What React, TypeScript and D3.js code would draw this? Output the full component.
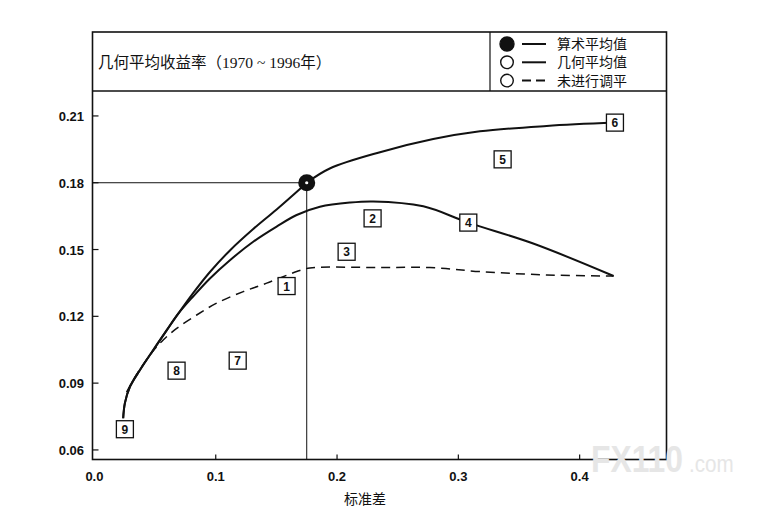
import React from 'react';
import * as d3 from 'd3';

// 算术平均值曲线（标准差, 收益率），以圆点为界分两段
const arithLowX = [0.0237, 0.0251, 0.0293, 0.0375, 0.0485, 0.0595, 0.0691, 0.0815, 0.0952, 0.1117, 0.1309, 0.1502, 0.168, 0.175];
const arithLowY = [0.0742, 0.081, 0.0884, 0.0959, 0.1049, 0.1137, 0.1212, 0.1305, 0.1399, 0.1496, 0.1592, 0.168, 0.1765, 0.18];
const arithHighX = [0.175, 0.194, 0.2354, 0.2793, 0.3178, 0.3728, 0.429];
const arithHighY = [0.18, 0.1864, 0.1937, 0.1996, 0.2031, 0.2055, 0.207];

// 几何平均值曲线
const geoX = [0.0237, 0.0251, 0.0293, 0.0375, 0.0485, 0.0595, 0.0691, 0.0815, 0.0952, 0.1117, 0.1309, 0.1502, 0.1667, 0.1859, 0.2106, 0.2298, 0.2711, 0.3082, 0.3617, 0.428];
const geoY = [0.0742, 0.081, 0.0884, 0.0959, 0.1049, 0.1137, 0.1212, 0.129, 0.137, 0.1452, 0.1535, 0.1603, 0.1655, 0.1692, 0.1711, 0.1716, 0.1694, 0.1621, 0.1527, 0.1381];

// 未进行调平曲线
const rawX = [0.0265, 0.0293, 0.0375, 0.0485, 0.0567, 0.0678, 0.0843, 0.1007, 0.1227, 0.142, 0.1667, 0.1776, 0.2354, 0.2766, 0.3178, 0.3728, 0.428];
const rawY = [0.086, 0.0888, 0.0962, 0.1045, 0.1094, 0.1146, 0.1206, 0.1259, 0.1311, 0.1349, 0.1401, 0.1417, 0.1419, 0.1419, 0.1401, 0.1386, 0.1381];

// 编号方框
const boxLabels = ['1', '2', '3', '4', '5', '6', '7', '8', '9'];
const boxX = [0.1584, 0.2293, 0.2079, 0.3082, 0.3365, 0.4291, 0.1181, 0.0677, 0.0251];
const boxY = [0.1336, 0.164, 0.149, 0.1621, 0.1905, 0.207, 0.1001, 0.0956, 0.0693];

const markX = 0.175;
const markY = 0.18;

const xTicks = [0.0, 0.1, 0.2, 0.3, 0.4];
const yTicks = [0.06, 0.09, 0.12, 0.15, 0.18, 0.21];

const legendLabels = ['算术平均值', '几何平均值', '未进行调平'];
const title = '几何平均收益率（1970 ~ 1996年）';
const xTitle = '标准差';

const pairs = (xs: number[], ys: number[]) => xs.map((v, i) => [v, ys[i]] as [number, number]);

const App: React.FC = () => {
  const left = 92.5;
  const right = 666.5;
  const top = 91;
  const bottom = 459.5;
  const frameTop = 32;

  const x = d3.scaleLinear().domain([-0.0016, 0.4716]).range([left, right]);
  const y = d3.scaleLinear().domain([0.0557, 0.2212]).range([bottom, top]);

  const line = d3.line<[number, number]>()
    .x(d => x(d[0]))
    .y(d => y(d[1]))
    .curve(d3.curveCatmullRom.alpha(0.5));

  const numFont = '"Liberation Sans", Arial, sans-serif';
  const cjkFont = '"Liberation Serif", "Noto Sans CJK SC", serif';
  const sansCjk = '"Noto Sans CJK SC", sans-serif';

  return (
    <svg width={776} height={513} style={{ position: 'absolute', left: 0, top: 0, background: '#fff' }}>
      {/* 外框与表头 */}
      <rect x={left} y={frameTop} width={right - left} height={bottom - frameTop} fill="none" stroke="#111" strokeWidth={1.6} />
      <line x1={left} x2={right} y1={top} y2={top} stroke="#111" strokeWidth={1.4} />
      <line x1={490} x2={490} y1={frameTop} y2={top} stroke="#111" strokeWidth={1.2} />
      <text x={98} y={68} fontFamily={cjkFont} fontSize={15.5} fill="#111">{title}</text>

      {/* 图例 */}
      {legendLabels.map((t, i) => {
        const cy = 44 + i * 18.3;
        return (
          <g key={t}>
            <circle cx={507} cy={cy} r={i === 0 ? 7 : 6.3} fill={i === 0 ? '#111' : '#fff'} stroke="#111" strokeWidth={1.4} />
            <line x1={522} x2={546} y1={cy} y2={cy} stroke="#111" strokeWidth={2}
              strokeDasharray={i === 2 ? '9,5' : undefined} />
            <text x={557} y={cy + 5} fontFamily={sansCjk} fontSize={14} fill="#111">{t}</text>
          </g>
        );
      })}

      {/* 坐标刻度 */}
      {yTicks.map(t => (
        <g key={'y' + t}>
          <line x1={left} x2={left + 6} y1={y(t)} y2={y(t)} stroke="#111" strokeWidth={1.2} />
          <text x={84} y={y(t) + 5} textAnchor="end" fontFamily={numFont} fontWeight="bold" fontSize={13} fill="#111">{t.toFixed(2)}</text>
        </g>
      ))}
      {xTicks.map(t => (
        <g key={'x' + t}>
          {t > 0 && <line x1={x(t)} x2={x(t)} y1={bottom} y2={bottom - 5} stroke="#111" strokeWidth={1.2} />}
          <text x={x(t)} y={481} textAnchor="middle" fontFamily={numFont} fontWeight="bold" fontSize={13} fill="#111">{t.toFixed(1)}</text>
        </g>
      ))}
      <text x={365} y={504} textAnchor="middle" fontFamily={sansCjk} fontSize={14} fill="#111">{xTitle}</text>

      {/* 参考线 */}
      <line x1={left} x2={x(markX)} y1={y(markY)} y2={y(markY)} stroke="#111" strokeWidth={1} />
      <line x1={x(markX)} x2={x(markX)} y1={y(markY)} y2={bottom} stroke="#111" strokeWidth={1} />

      {/* 曲线 */}
      <path d={line(pairs(rawX, rawY)) || ''} fill="none" stroke="#111" strokeWidth={1.5} strokeDasharray="9,6" />
      <path d={line(pairs(geoX, geoY)) || ''} fill="none" stroke="#111" strokeWidth={2} />
      <path d={line(pairs(arithLowX, arithLowY)) || ''} fill="none" stroke="#111" strokeWidth={2} />
      <path d={line(pairs(arithHighX, arithHighY)) || ''} fill="none" stroke="#111" strokeWidth={2} />

      <circle cx={x(markX)} cy={y(markY)} r={8.5} fill="#111" />
      <circle cx={x(markX)} cy={y(markY)} r={1.6} fill="#fff" />

      {/* 编号方框 */}
      {boxLabels.map((b, i) => (
        <g key={'b' + b}>
          <rect x={x(boxX[i]) - 8.5} y={y(boxY[i]) - 8.5} width={17} height={17} fill="#fff" stroke="#111" strokeWidth={1.3} />
          <text x={x(boxX[i])} y={y(boxY[i]) + 4.5} textAnchor="middle" fontFamily={numFont} fontWeight="bold" fontSize={12} fill="#111">{b}</text>
        </g>
      ))}

      {/* 水印 */}
      <text transform="translate(591,472) scale(0.86,1)" fontFamily={numFont} fill="#e6e6e6">
        <tspan fontWeight="bold" fontSize={37}>FX110</tspan>
        <tspan dx={7} fontSize={24}>.com</tspan>
      </text>
    </svg>
  );
};

export default App;
